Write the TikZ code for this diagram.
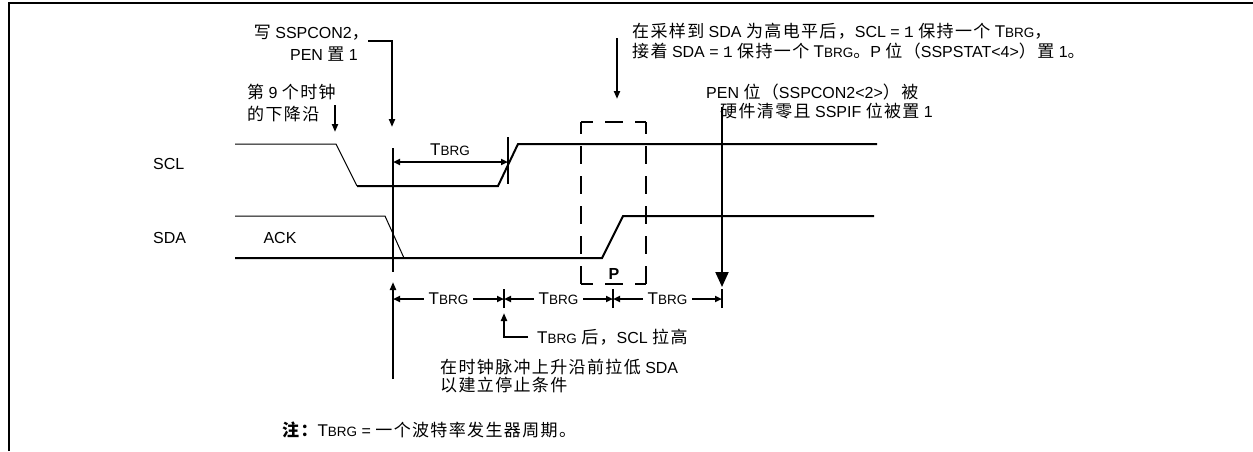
\documentclass[tikz,border=0pt]{standalone}
\usepackage{fontspec}
\setmainfont{Liberation Sans}
\newfontfamily\cjk[LetterSpace=8]{Noto Sans CJK SC}
\newfontfamily\monof{Liberation Mono}
\usetikzlibrary{arrows.meta}
\newcommand\zh[1]{{\fontsize{17}{19}\selectfont\cjk #1}}
\newcommand\tb{{\fontsize{17}{19}\selectfont T}{\fontsize{13.5}{15}\selectfont BRG}}
\newcommand\one{{\monof 1}}
\begin{document}
\begin{tikzpicture}[x=1pt,y=-1pt,
  txt/.style={inner sep=0pt, font=\fontsize{16}{18}\selectfont},
  thk/.style={line width=2pt},
  thn/.style={line width=1pt},
  arr/.style={thk,-{Triangle[length=8pt,width=6pt]}},
  dim/.style={thk,{Triangle[length=7pt,width=6pt]}-{Triangle[length=7pt,width=6pt]}},
  dlab/.style={txt, fill=white, inner xsep=5pt, inner ysep=2pt},
  dbox/.style={thk, dash pattern=on 18pt off 12pt, dash phase=6pt}]
\useasboundingbox (0,0) rectangle (1253,451);
% frame
\draw[line width=2.5pt] (9,451) -- (9,3) -- (1253,3);
% coordinates
\coordinate (sclA) at (235,144);
\coordinate (sclB) at (336,144);
\coordinate (sclC) at (357,186);
\coordinate (sclD) at (498,186);
\coordinate (sclE) at (518,144);
\coordinate (sclF) at (877,144);
\coordinate (sdaA) at (235,216);
\coordinate (sdaB) at (385,216);
\coordinate (sdaC) at (404,258);
\coordinate (sdaL) at (235,258);
\coordinate (sdaD) at (602,258);
\coordinate (sdaE) at (623,216);
\coordinate (sdaF) at (874,216);
% waveforms
\draw[thn] (sclA) -- (sclB) -- (sclC);
\draw[thk] (sclC) -- (sclD) -- (sclE) -- (sclF);
\draw[thn] (sdaA) -- (sdaB) -- (sdaC);
\draw[thk] (sdaL) -- (sdaD) -- (sdaE) -- (sdaF);
% labels
\node[txt, anchor=west] (scl) at (153,164) {SCL};
\node[txt, anchor=west] (sda) at (153,238) {SDA};
\node[txt] (ack) at (280,238) {ACK};
% write SSPCON2
\node[txt, anchor=base east] (w1) at (369,38) {\zh{写} SSPCON2\zh{，}};
\node[txt, anchor=base east] (w2) at (358,60) {PEN \zh{置} 1};
\coordinate (wa) at (368,41);
\coordinate (wb) at (392,41);
\coordinate (wc) at (392,127);
\draw[arr] (wa) -- (wb) -- (wc);
% 9th clock
\node[txt, anchor=base west] (n1) at (247,98) {\zh{第} 9 \zh{个时钟}};
\node[txt, anchor=base west] (n2) at (247,120) {\zh{的下降沿}};
\coordinate (na) at (335,105);
\coordinate (nb) at (335,132);
\draw[arr] (na) -- (nb);
% vertical at start
\coordinate (v1a) at (393,148);
\coordinate (v1b) at (393,272);
\draw[thk] (v1a) -- (v1b);
% TBRG on SCL
\coordinate (t1a) at (393,162);
\coordinate (t1b) at (508,162);
\draw[dim] (t1a) -- (t1b);
\node[txt] (t1l) at (450,150) {\tb};
\coordinate (tka) at (508,137);
\coordinate (tkb) at (508,184);
\draw[thk] (tka) -- (tkb);
% dashed box
\coordinate (bxA) at (581,122);
\coordinate (bxB) at (646,122);
\coordinate (bxC) at (581,284);
\coordinate (bxD) at (646,284);
\draw[dbox] (bxA) -- (bxB);
\draw[dbox] (bxA) -- (bxC);
\draw[dbox] (bxB) -- (bxD);
\draw[dbox] (bxC) -- (bxD);
\node[txt, font=\fontsize{16}{18}\selectfont\bfseries] (P) at (614,274) {P};
% arrow above box
\coordinate (pa) at (617,38);
\coordinate (pb) at (617,99);
\draw[arr] (pa) -- (pb);
\node[txt, anchor=base west] (s1) at (632,37) {\zh{在采样到} SDA \zh{为高电平后，}SCL = \one{} \zh{保持一个} \tb\zh{，}};
\node[txt, anchor=base west] (s2) at (632,57) {\zh{接着} SDA = \one{} \zh{保持一个} \tb\zh{。}P \zh{位（}SSPSTAT<4>\zh{）置} 1\zh{。}};
% PEN cleared
\node[txt, anchor=base west] (e1) at (706,98) {PEN \zh{位（}SSPCON2<2>\zh{）被}};
\node[txt, anchor=base west] (e2) at (720,117) {\zh{硬件清零且} SSPIF \zh{位被置} 1};
\coordinate (ea) at (722,107);
\coordinate (eb) at (722,287);
\draw[thk,-{Triangle[length=15pt,width=13pt]}] (ea) -- (eb);
% measurement row
\coordinate (m0) at (393,299);
\coordinate (m1) at (504,299);
\coordinate (m2) at (613,299);
\coordinate (m3) at (722,299);
\draw[dim] (m0) -- node[dlab] (ml1) {\tb} (m1);
\draw[dim] (m1) -- node[dlab] (ml2) {\tb} (m2);
\draw[dim] (m2) -- node[dlab] (ml3) {\tb} (m3);
\foreach \m in {m1,m2,m3} {
  \draw[thk] ([yshift=-9pt]\m) -- ([yshift=10pt]\m);
}
% up arrow at start
\coordinate (ua) at (393,379);
\coordinate (ub) at (393,282);
\draw[arr] (ua) -- (ub);
% bent arrow after TBRG
\coordinate (ba) at (528,337);
\coordinate (bb) at (504,337);
\coordinate (bc) at (504,313);
\draw[arr] (ba) -- (bb) -- (bc);
\node[txt, anchor=base west] (bt) at (537,343) {\tb{} \zh{后，}SCL \zh{拉高}};
\node[txt, anchor=base west] (c1) at (440,373) {\zh{在时钟脉冲上升沿前拉低} SDA};
\node[txt, anchor=base west] (c2) at (440,391) {\zh{以建立停止条件}};
% note
\node[txt, anchor=base west] (note) at (282,436) {{\bfseries\zh{注：}}\tb{} = \zh{一个波特率发生器周期。}};
\end{tikzpicture}
\end{document}
